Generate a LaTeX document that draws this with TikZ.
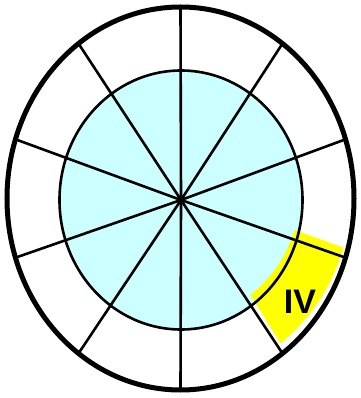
\documentclass[tikz,border=0pt]{standalone}
\usepackage{fontspec}
\setsansfont{Liberation Sans}
\usetikzlibrary{calc}
\definecolor{paleaqua}{HTML}{CCFFFF}
\definecolor{hilite}{HTML}{FFFF00}

\begin{document}
\begin{tikzpicture}[x=1pt,y=1pt,
  rim/.style={draw,line width=5pt},
  spoke/.style={line width=2.6pt},
  zone/.style={fill=hilite},
  lbl/.style={font=\sffamily\bfseries\fontsize{34}{34}\selectfont,inner sep=0pt}]

  \useasboundingbox (-181,-198) rectangle (179,200);
  \coordinate (hub) at (0,0);
  \coordinate (rimc) at (-0.5,1.5);

  % inner disc
  \fill[paleaqua] (hub) ellipse[x radius=121.5,y radius=129.5];

  % highlighted ring segment (printed slightly off register)
  \fill[zone,shift={(-2,10)}] (-18:121.5 and 129.5) -- ($(-0.5,1.5)+(-18:173.5 and 191.5)$)
    arc[start angle=-18,end angle=-54,x radius=173.5,y radius=191.5]
    -- (-54:121.5 and 129.5)
    arc[start angle=-54,end angle=-18,x radius=121.5,y radius=129.5] -- cycle;

  % spokes
  \foreach \a in {90,54,18,-18,-54,-90,-126,-162,-198,-234}
    \draw[spoke] (hub) -- ($(rimc)+(\a:173.5 and 191.5)$);

  % circles
  \draw[line width=2.6pt] (hub) ellipse[x radius=121.5,y radius=129.5];
  \draw[rim] (rimc) ellipse[x radius=173.5,y radius=191.5];

  \node[lbl] (iv) at (119,-102) {IV};
\end{tikzpicture}
\end{document}
